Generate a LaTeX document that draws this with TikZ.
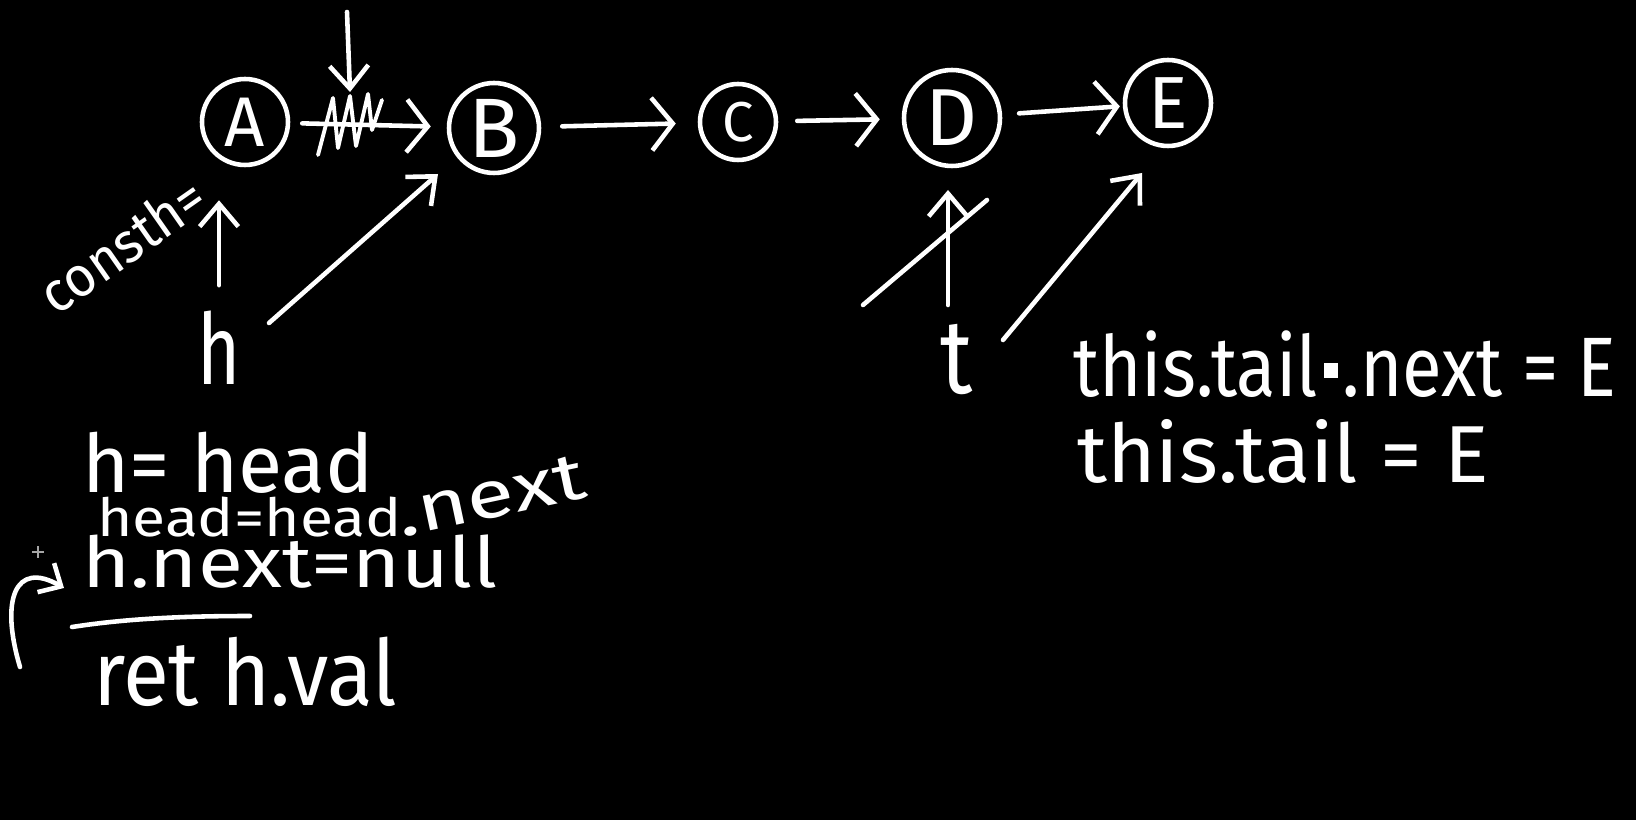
\documentclass[tikz,border=0pt]{standalone}
\usepackage{fontspec}
\setmainfont{Fira Sans}
\usepackage{graphicx}
\usetikzlibrary{arrows.meta}
\newcommand\hwt[3]{\scalebox{#1}[1]{\fontsize{#2}{#2}\selectfont #3}}
\begin{document}
\begin{tikzpicture}[x=0.02cm,y=-0.02cm,
  ink/.style={white,line width=2.6pt,line cap=round,line join=round},
  nodecirc/.style={circle,draw=white,line width=2.6pt,text=white,inner sep=0pt},
  lbl/.style={text=white,inner sep=0pt,outer sep=0pt},
  harr/.style={ink,-{Straight Barb[length=12pt,width=30pt]}},
  parr/.style={ink,-{Straight Barb[length=13pt,width=22pt]}},
  sarr/.style={ink,-{Straight Barb[length=10pt,width=19pt]}},
]
\fill[black] (0,0) rectangle (1636,820);
\useasboundingbox (0,0) rectangle (1636,820);

% list nodes
\node[nodecirc,minimum size=1.72cm,font=\fontsize{40}{40}\selectfont] (A) at (245,122) {A};
\node[nodecirc,minimum size=1.80cm,font=\fontsize{48}{48}\selectfont] (B) at (494,128) {B};
\node[nodecirc,minimum size=1.52cm,font=\fontsize{32}{32}\selectfont] (C) at (738,122) {C};
\node[nodecirc,minimum size=1.92cm,font=\fontsize{46}{46}\selectfont] (D) at (952,118) {D};
\node[nodecirc,minimum size=1.72cm,font=\fontsize{42}{42}\selectfont] (E) at (1168,103) {E};

% list links
\draw[harr,shorten <=0.24cm,shorten >=0.32cm] (A) -- (B);
\draw[harr,shorten <=0.42cm,shorten >=0.44cm] (B) -- (C);
\draw[harr,shorten <=0.38cm,shorten >=0.44cm] (C) -- (D);
\draw[harr,shorten <=0.34cm,shorten >=0.06cm] (D) -- (E);

% crossed-out link and pointer
\draw[ink,line width=2.2pt] (318,155) -- (333,98) -- (338,148) -- (350,96) -- (356,146) -- (368,94) -- (372,130) -- (382,100);
\coordinate (ptop) at (347,12);
\coordinate (pstrike) at (350,92);
\draw[parr] (ptop) -- (pstrike);

% head pointer
\node[lbl] (h) at (219,348) {\hwt{0.75}{56}{h}};
\draw[parr,shorten <=0.52cm,shorten >=0.66cm] (h.north) -- (h.north |- A.south);
\draw[parr] ([shift={(50,-25)}]h.center) -- ([shift={(-56,46)}]B.center);
\node[lbl,rotate=35] (const) at (122,245) {\hwt{0.95}{32}{consth=}};

% tail pointer
\node[lbl] (t) at (957,360) {\hwt{0.85}{60}{t}};
\draw[parr] ([shift={(-9,-55)}]t.center) -- ([shift={(-4,72)}]D.center);
\draw[ink] (863,305) -- (987,200);
\draw[parr] ([shift={(46,-20)}]t.center) -- ([shift={(-26,70)}]E.center);

% dequeue code
\node[lbl,anchor=base west] (l1) at (82,493) {\hwt{1}{46}{h= head}};
\node[lbl,anchor=base west] (l2) at (97,537) {\hwt{1.15}{30}{head=head}};
\node[lbl,anchor=base west,rotate=12] (l2b) at (l2.base east) {\hwt{1.3}{38}{.next}};
\node[lbl,anchor=base west] (l3) at (82,587) {\hwt{1.17}{40}{h.next=null}};
\draw[ink] (72,627) .. controls (130,618) and (190,616) .. (250,616);
\node[lbl,anchor=base west] (l4) at (93,705) {\hwt{0.92}{52}{ret h.val}};
\coordinate (cs) at (20,667);
\coordinate (ce) at (64,588);
\draw[sarr] (cs) .. controls (0,600) and (15,560) .. (ce);
\draw[gray!70,line width=0.6pt] (32,552) -- (44,552) (38,546) -- (38,558);

% enqueue code
\node[lbl,anchor=base west] (r1) at (1073,397) {\hwt{0.86}{48}{this.tail\hspace{0.08em}\rule[0.22em]{0.2em}{0.18em}\hspace{0.06em}.next = E}};
\node[lbl,anchor=base west] (r2) at (1077,483) {\hwt{1.03}{46}{this.tail = E}};
\end{tikzpicture}
\end{document}
